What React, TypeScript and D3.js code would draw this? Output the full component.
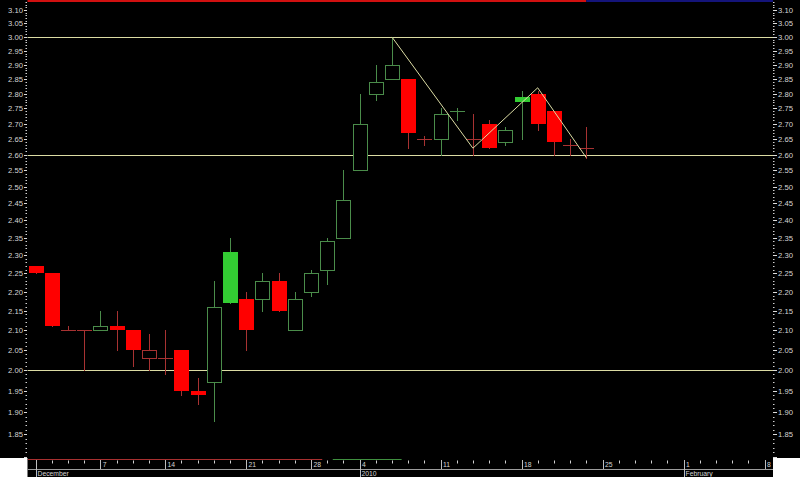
import React from 'react';
import * as d3 from 'd3';

// ---- data (trading-day slot index, OHLC) ----
const slotCount = 46;
const opens = [2.27, 2.25, 2.10, 2.10, 2.10, 2.11, 2.10, 2.03, 2.03, 2.05, 1.95, 1.97, 2.31, 2.18, 2.18, 2.23, 2.10, 2.20, 2.26, 2.35, 2.55, 2.80, 2.85, 2.85, 2.65, 2.65, 2.74, 2.65, 2.70, 2.64, 2.79, 2.80, 2.74, 2.63, 2.62];
const highs = [2.27, 2.25, 2.11, 2.10, 2.15, 2.15, 2.10, 2.09, 2.10, 2.05, 1.98, 2.23, 2.35, 2.20, 2.25, 2.25, 2.20, 2.26, 2.35, 2.55, 2.80, 2.90, 3.00, 2.85, 2.66, 2.75, 2.75, 2.73, 2.71, 2.69, 2.81, 2.81, 2.74, 2.65, 2.69];
const lows = [2.25, 2.11, 2.10, 2.00, 2.10, 2.05, 2.01, 2.00, 1.99, 1.94, 1.92, 1.88, 2.17, 2.05, 2.15, 2.15, 2.10, 2.19, 2.22, 2.35, 2.55, 2.78, 2.85, 2.62, 2.63, 2.60, 2.71, 2.60, 2.62, 2.63, 2.65, 2.68, 2.60, 2.60, 2.59];
const closes = [2.25, 2.11, 2.10, 2.10, 2.11, 2.10, 2.05, 2.05, 2.03, 1.95, 1.94, 2.16, 2.17, 2.10, 2.23, 2.15, 2.18, 2.25, 2.34, 2.46, 2.70, 2.84, 2.90, 2.67, 2.65, 2.73, 2.74, 2.65, 2.62, 2.68, 2.77, 2.70, 2.64, 2.63, 2.62];

const weekTickSlots = [4, 8, 13, 17, 20, 25, 30, 35, 40, 45];
const weekTickLabels = ['7', '14', '21', '28', '4', '11', '18', '25', '1', '8'];
const monthTickSlots = [0, 20, 40];
const monthTickLabels = ['December', '2010', 'February'];

const levelLines = [3.0, 2.6, 2.0];
const zigzagSlots = [22, 27, 31, 34];
const zigzagPrices = [3.0, 2.62, 2.82, 2.59];

const bandFrom = [-0.47, 18.35];
const bandTo = [17.7, 22.6];
const bandColors = ['#a83030', '#3f8f3f'];

const majorTicks = d3.range(180, 315, 5).map((v) => v / 100);
const minorTicks = d3.range(180, 314, 1).map((v) => v / 100);

// ---- styles ----
const W = 800;
const H = 477;
const PL = 27.5;
const PR = 773;
const PB = 458;
const RED = '#ff0000';
const DIM_RED = '#a83232';
const GREEN = '#33cc33';
const DIM_GREEN = '#4a8c4a';
const LEVEL = '#dcdca4';
const AXIS_TEXT = '#d4d4d4';
const FONT = '"Liberation Sans", Arial, sans-serif';

const x = d3.scaleLinear().domain([0, 45]).range([35.5, 764.5]);
const y = d3.scaleLog().domain([1.797, 3.138]).range([PB, 0]);

const px = (v: number) => Math.round(v) + 0.5;

export default function App() {
  const candles = opens.map((o, i) => {
    const c = closes[i];
    const prev = i > 0 ? closes[i - 1] : o;
    const up = c > prev;
    const bright = up ? GREEN : RED;
    const dim = up ? DIM_GREEN : DIM_RED;
    const cx = px(x(i));
    const half = 7;
    const top = y(Math.max(o, c));
    const bot = y(Math.min(o, c));
    let body: React.ReactNode;
    if (o === c) {
      body = <line x1={cx - half - 0.5} x2={cx + half + 0.5} y1={px(y(c))} y2={px(y(c))} stroke={dim} />;
    } else if (c < o) {
      body = <rect x={cx - half - 0.5} y={Math.round(top)} width={2 * half + 1} height={Math.max(1, Math.round(bot) - Math.round(top))} fill={bright} />;
    } else {
      body = <rect x={cx - half} y={px(top)} width={2 * half} height={Math.max(1, Math.round(bot) - Math.round(top))} fill="#000" stroke={dim} />;
    }
    return (
      <g key={i}>
        <line x1={cx} x2={cx} y1={Math.round(y(highs[i]))} y2={Math.round(y(lows[i])) + 1} stroke={dim} />
        {body}
      </g>
    );
  });

  const zig = d3.line<number>().x((_, k) => x(zigzagSlots[k])).y((p) => y(p))(zigzagPrices) || '';
  const lastSlot = opens.length - 1;

  return (
    <svg width={W} height={H} style={{ position: 'absolute', left: 0, top: 0, display: 'block' }} fontFamily={FONT}>
      <rect x={0} y={0} width={W} height={H} fill="#fff" />
      <rect x={0} y={0} width={W} height={PB} fill="#000" />
      <rect x={PL} y={PB} width={PR - PL} height={H - PB} fill="#000" />

      {/* top status bar */}
      <rect x={PL} y={0} width={x(lastSlot) - PL} height={2} fill="#d01010" />
      <rect x={x(lastSlot)} y={0} width={PR - x(lastSlot)} height={2} fill="#14147a" />

      {/* level lines */}
      {levelLines.map((v) => (
        <line key={v} x1={PL} x2={PR} y1={px(y(v))} y2={px(y(v))} stroke={LEVEL} />
      ))}

      {candles}

      <path d={zig} fill="none" stroke={LEVEL} strokeWidth={1} />

      {/* left axis */}
      {minorTicks.map((v) => (
        <g key={'m' + v}>
          <line x1={25.5} x2={27} y1={px(y(v))} y2={px(y(v))} stroke="#cfcfcf" />
          <line x1={773} x2={774.5} y1={px(y(v))} y2={px(y(v))} stroke="#cfcfcf" />
        </g>
      ))}
      {majorTicks.map((v) => {
        const yy = px(y(v));
        const show = yy > 6 && yy < PB - 6;
        return (
          <g key={'M' + v}>
            <line x1={24} x2={27} y1={yy} y2={yy} stroke="#dcdcdc" />
            <line x1={773} x2={777} y1={yy} y2={yy} stroke="#dcdcdc" />
            {show && (
              <>
                <text x={23} y={yy} dy="0.35em" textAnchor="end" fontSize={7.7} fill={AXIS_TEXT}>{v.toFixed(2)}</text>
                <text x={778} y={yy} dy="0.35em" textAnchor="start" fontSize={7.7} fill={AXIS_TEXT}>{v.toFixed(2)}</text>
              </>
            )}
          </g>
        );
      })}

      {/* bottom indicator bands */}
      {bandFrom.map((f, k) => (
        <line key={'b' + k} x1={x(f)} x2={x(bandTo[k])} y1={459.5} y2={459.5} stroke={bandColors[k]} />
      ))}

      {/* x axis */}
      <line x1={PL} x2={PR} y1={469.5} y2={469.5} stroke="#9c9c9c" />
      {d3.range(slotCount).filter((i) => !weekTickSlots.includes(i) && !monthTickSlots.includes(i)).map((i) => (
        <line key={'s' + i} x1={px(x(i))} x2={px(x(i))} y1={460.5} y2={463.5} stroke="#d0d0d0" />
      ))}
      {weekTickSlots.map((s, k) => (
        <g key={'w' + s}>
          <line x1={px(x(s))} x2={px(x(s))} y1={460} y2={469} stroke="#bdbdbd" />
          <text x={x(s) + 2.5} y={467} fontSize={6.8} fill={AXIS_TEXT}>{weekTickLabels[k]}</text>
        </g>
      ))}
      {monthTickSlots.map((s, k) => (
        <g key={'mo' + s}>
          <line x1={px(x(s))} x2={px(x(s))} y1={460} y2={477} stroke="#bdbdbd" />
          <text x={x(s) + 2} y={476} fontSize={6.8} fill={AXIS_TEXT}>{monthTickLabels[k]}</text>
        </g>
      ))}
    </svg>
  );
}
